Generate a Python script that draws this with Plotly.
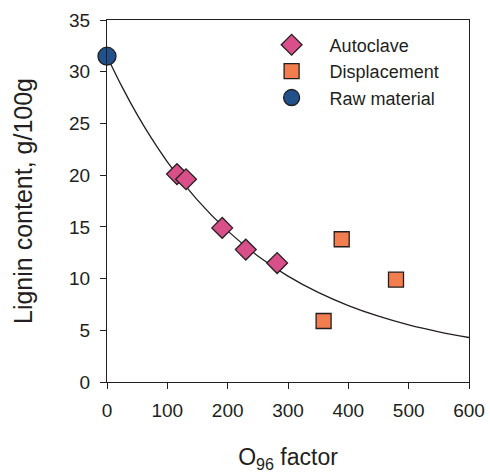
import plotly.graph_objects as go

# Data
auto_x = [116, 131, 191, 230, 282]
auto_y = [20.1, 19.6, 14.9, 12.8, 11.5]

disp_x = [389, 479, 359]
disp_y = [13.8, 9.9, 5.9]

raw_x = [0]
raw_y = [31.5]

# Fitted curve, points
curve_x = [0, 25, 50, 75, 100, 150, 200, 250, 300, 350, 400, 450, 500, 550, 600]
curve_y = [31.5, 28.53, 25.85, 23.45, 21.29, 17.59, 14.61, 12.19, 10.24, 8.66,
           7.39, 6.36, 5.52, 4.85, 4.30]

x_ticks = [0, 100, 200, 300, 400, 500, 600]
y_ticks = [0, 5, 10, 15, 20, 25, 30, 35]

FONT = "Liberation Sans, Arial, sans-serif"
EDGE = "#231f20"

fig = go.Figure()
fig.add_trace(go.Scatter(x=curve_x, y=curve_y, mode="lines", line=dict(color=EDGE, width=1.3, shape="spline"),
                         showlegend=False, hoverinfo="skip"))
fig.add_trace(go.Scatter(x=auto_x, y=auto_y, mode="markers", name="Autoclave",
                         marker=dict(symbol="diamond", size=16, color="#d94f8a",
                                     line=dict(color=EDGE, width=1.3))))
fig.add_trace(go.Scatter(x=disp_x, y=disp_y, mode="markers", name="Displacement",
                         marker=dict(symbol="square", size=15, color="#f27d4f",
                                     line=dict(color=EDGE, width=1.3))))
fig.add_trace(go.Scatter(x=raw_x, y=raw_y, mode="markers", name="Raw material",
                         marker=dict(symbol="circle", size=18, color="#22508a",
                                     line=dict(color=EDGE, width=1.3)), cliponaxis=False))

fig.update_layout(
    width=490, height=473,
    margin=dict(l=107, r=21, t=20, b=91, autoexpand=False),
    paper_bgcolor="white", plot_bgcolor="white",
    font=dict(family=FONT, size=19, color="#231f20"),
    legend=dict(x=0.405, y=0.982, xanchor="left", yanchor="top",
                bgcolor="rgba(0,0,0,0)", font=dict(size=18, family=FONT),
                itemsizing="trace", itemwidth=66),
    xaxis=dict(range=[0, 600], tickvals=x_ticks, ticks="outside", ticklen=6,
               tickwidth=1.2, tickcolor=EDGE, showline=True, linecolor=EDGE,
               linewidth=1.2, mirror=True, showgrid=False, zeroline=False,
               ticklabelstandoff=5,
               title=dict(text="O<sub>96</sub> factor", font=dict(size=23), standoff=30)),
    yaxis=dict(range=[0, 35], tickvals=y_ticks, ticks="outside", ticklen=6,
               tickwidth=1.2, tickcolor=EDGE, showline=True, linecolor=EDGE,
               linewidth=1.2, mirror=True, showgrid=False, zeroline=False,
               ticklabelstandoff=6,
               title=dict(text="Lignin content, g/100g", font=dict(size=25), standoff=29)),
)

fig.write_html("out.html", config={"displayModeBar": False},
               post_script="document.body.style.margin='0';")
